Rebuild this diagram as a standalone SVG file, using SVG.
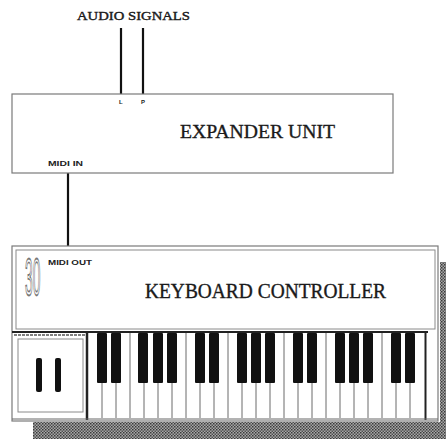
<svg xmlns="http://www.w3.org/2000/svg" width="446" height="439" viewBox="0 0 446 439">
  <style>
    .box { fill: #fff; stroke: #7a7a7a; stroke-width: 1.2; }
    .thin { fill: none; stroke: #8a8a8a; stroke-width: 1; }
    .cable { stroke: #111; stroke-width: 2.2; fill: none; }
    .title { font-family: "Liberation Serif", "DejaVu Serif", serif; fill: #1a1a1a; stroke: #1a1a1a; stroke-width: 0.35; }
    .tiny { font-family: "Liberation Sans", "DejaVu Sans", sans-serif; font-weight: bold; fill: #222; }
    .wkey { stroke: #6a6a6a; stroke-width: 1; }
    .bkey { fill: #111; }
  </style>
  <defs>
    <pattern id="dither" width="3" height="3" patternUnits="userSpaceOnUse">
      <rect width="3" height="3" fill="#a8a8a8"/>
      <rect width="1.5" height="1.5" fill="#3a3a3a"/>
      <rect x="1.5" y="1.5" width="1.5" height="1.5" fill="#505050"/>
    </pattern>
  </defs>

  <rect width="446" height="439" fill="#fff"/>

  <!-- cables -->
  <g id="connectors">
    <line class="cable" x1="121" y1="28" x2="121" y2="94"/>
    <line class="cable" x1="143" y1="28" x2="143" y2="94"/>
    <line class="cable" x1="68" y1="173" x2="68" y2="247"/>
  </g>

  <g id="audio-signals">
    <text class="title" x="77" y="20" font-size="11.5" textLength="113" lengthAdjust="spacingAndGlyphs">AUDIO SIGNALS</text>
  </g>

  <!-- sound module -->
  <g id="expander-unit">
    <rect class="box" x="12" y="94" width="381" height="79"/>
    <text class="tiny" x="119" y="104" font-size="6">L</text>
    <text class="tiny" x="141" y="104" font-size="6">P</text>
    <text class="title" x="180" y="138" font-size="19.5" textLength="155" lengthAdjust="spacingAndGlyphs">EXPANDER UNIT</text>
    <text class="tiny" x="48" y="166" font-size="8" textLength="35" lengthAdjust="spacingAndGlyphs">MIDI IN</text>
  </g>

  <!-- master keyboard -->
  <g id="keyboard-controller">
    <!-- drop shadow -->
    <rect x="440" y="262" width="6" height="177" fill="url(#dither)"/>
    <rect x="33" y="422" width="413" height="17" fill="url(#dither)"/>

    <rect class="box" x="12" y="246" width="426" height="175"/>
    <rect class="thin" x="16" y="250" width="419" height="79"/>

    <text x="0" y="0" transform="translate(25,295) scale(1.15,4.3)" font-family="Liberation Sans, sans-serif" font-size="12" fill="#fff" stroke="#777" stroke-width="1.3" vector-effect="non-scaling-stroke">30</text>
    <text class="tiny" x="48" y="265" font-size="8" textLength="44" lengthAdjust="spacingAndGlyphs">MIDI OUT</text>
    <text class="title" x="145" y="298" font-size="20" textLength="241" lengthAdjust="spacingAndGlyphs">KEYBOARD CONTROLLER</text>

    <!-- wheel panel -->
    <rect class="thin" x="18" y="339" width="65" height="73"/>
    <line x1="14" y1="335" x2="86" y2="335" stroke="#555" stroke-width="1.5" stroke-dasharray="3 1"/>
    <rect x="36" y="358" width="6" height="34" rx="2" fill="#111"/>
    <rect x="55" y="358" width="6" height="34" rx="2" fill="#111"/>

    <!-- keybed frame -->
    <line x1="12" y1="332" x2="428" y2="332" stroke="#222" stroke-width="2"/>
    <line x1="87" y1="332" x2="87" y2="420" stroke="#222" stroke-width="2.5"/>
    <line x1="425.5" y1="332" x2="425.5" y2="420" stroke="#222" stroke-width="2"/>
    <line x1="12" y1="419" x2="438" y2="419" stroke="#666" stroke-width="1"/>

    <!-- white keys -->
    <g class="wkey">
      <line x1="102" y1="333" x2="102" y2="418"/>
      <line x1="116" y1="333" x2="116" y2="418"/>
      <line x1="130" y1="333" x2="130" y2="418"/>
      <line x1="144" y1="333" x2="144" y2="418"/>
      <line x1="158" y1="333" x2="158" y2="418"/>
      <line x1="172" y1="333" x2="172" y2="418"/>
      <line x1="186" y1="333" x2="186" y2="418"/>
      <line x1="200" y1="333" x2="200" y2="418"/>
      <line x1="214" y1="333" x2="214" y2="418"/>
      <line x1="228" y1="333" x2="228" y2="418"/>
      <line x1="242" y1="333" x2="242" y2="418"/>
      <line x1="256" y1="333" x2="256" y2="418"/>
      <line x1="270" y1="333" x2="270" y2="418"/>
      <line x1="284" y1="333" x2="284" y2="418"/>
      <line x1="298" y1="333" x2="298" y2="418"/>
      <line x1="312" y1="333" x2="312" y2="418"/>
      <line x1="326" y1="333" x2="326" y2="418"/>
      <line x1="340" y1="333" x2="340" y2="418"/>
      <line x1="354" y1="333" x2="354" y2="418"/>
      <line x1="368" y1="333" x2="368" y2="418"/>
      <line x1="382" y1="333" x2="382" y2="418"/>
      <line x1="396" y1="333" x2="396" y2="418"/>
      <line x1="410" y1="333" x2="410" y2="418"/>
    </g>

    <!-- black keys -->
    <g class="bkey">
      <rect x="97" y="333" width="10" height="50" rx="1"/>
      <rect x="111" y="333" width="10" height="50" rx="1"/>
      <rect x="138" y="333" width="10" height="50" rx="1"/>
      <rect x="153" y="333" width="10" height="50" rx="1"/>
      <rect x="167" y="333" width="10" height="50" rx="1"/>
      <rect x="195" y="333" width="10" height="50" rx="1"/>
      <rect x="209" y="333" width="10" height="50" rx="1"/>
      <rect x="237" y="333" width="10" height="50" rx="1"/>
      <rect x="251" y="333" width="10" height="50" rx="1"/>
      <rect x="265" y="333" width="10" height="50" rx="1"/>
      <rect x="293" y="333" width="10" height="50" rx="1"/>
      <rect x="307" y="333" width="10" height="50" rx="1"/>
      <rect x="335" y="333" width="10" height="50" rx="1"/>
      <rect x="349" y="333" width="10" height="50" rx="1"/>
      <rect x="363" y="333" width="10" height="50" rx="1"/>
      <rect x="391" y="333" width="10" height="50" rx="1"/>
      <rect x="405" y="333" width="10" height="50" rx="1"/>
    </g>
  </g>
</svg>
